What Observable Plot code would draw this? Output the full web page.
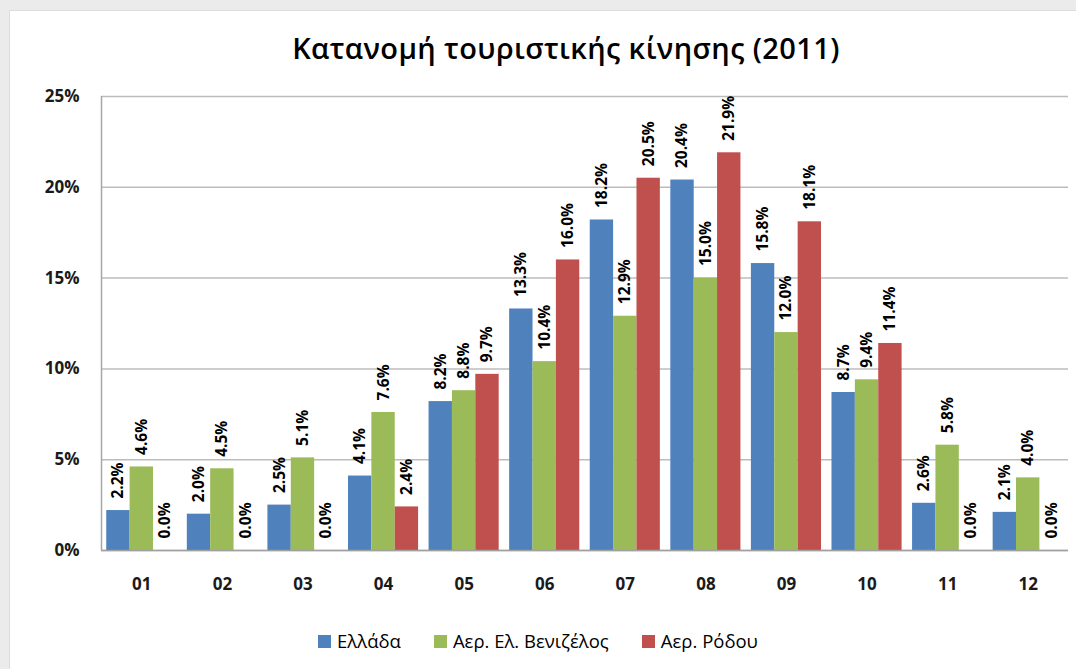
<!DOCTYPE html>
<html><head><meta charset="utf-8">
<script src="https://cdn.jsdelivr.net/npm/d3@7"></script>
<script src="https://cdn.jsdelivr.net/npm/@observablehq/plot@0.6"></script>
<style>
html,body{margin:0;padding:0}
body{width:1076px;height:669px;overflow:hidden;position:relative;background:#ebebeb;font-family:"Open Sans","Noto Sans",sans-serif}
#panel{position:absolute;left:9px;top:10px;width:1067px;height:659px;background:#fff;border-left:1px solid #ddd;border-top:1px solid #ddd}
#title{position:absolute;left:0;top:28px;width:1132px;text-align:center;font-size:29px;font-weight:600;letter-spacing:0.4px;color:#000}
#chart{position:absolute;left:0;top:0}
#legend{position:absolute;top:628px;left:0;width:1076px;display:flex;justify-content:center;gap:33px;font-size:18.5px;line-height:26px;color:#000}
#legend span.i{display:flex;align-items:center}
#legend span.sw{display:inline-block;width:13px;height:13px;margin-right:6px}
</style></head>
<body>
<div id="panel"></div>
<div id="chart"></div>
<div id="title">Κατανομή τουριστικής κίνησης (2011)</div>
<div id="legend"></div>
<script>
const months = ["01","02","03","04","05","06","07","08","09","10","11","12"];
const series = ["Ελλάδα","Αερ. Ελ. Βενιζέλος","Αερ. Ρόδου"];
const greece    = [2.2, 2.0, 2.5, 4.1, 8.2, 13.3, 18.2, 20.4, 15.8, 8.7, 2.6, 2.1];
const venizelos = [4.6, 4.5, 5.1, 7.6, 8.8, 10.4, 12.9, 15.0, 12.0, 9.4, 5.8, 4.0];
const rhodes    = [0.0, 0.0, 0.0, 2.4, 9.7, 16.0, 20.5, 21.9, 18.1, 11.4, 0.0, 0.0];
const colors = ["#4F81BD","#9BBB59","#C0504D"];
const yTicks = [0,5,10,15,20,25];

// layout: each month occupies one unit on a linear x scale; bars share a group
const barW = 0.29;
const seriesValues = [greece, venizelos, rhodes];
const rows = [];
months.forEach((m, i) => {
  series.forEach((s, j) => {
    const x1 = (i + 1) - 1.5 * barW + j * barW;
    rows.push({month: m, series: s, value: seriesValues[j][i], x1, x2: x1 + barW, xc: x1 + barW / 2});
  });
});
const monthPos = months.map((m, i) => i + 1);

const chart = Plot.plot({
  width: 1076, height: 600,
  marginLeft: 101, marginRight: 8, marginTop: 96, marginBottom: 50,
  style: {background: "transparent", fontFamily: "'Open Sans','Noto Sans',sans-serif", color: "#1a1a1a"},
  x: {domain: [0.5, 12.5], label: null, axis: null},
  y: {domain: [0, 25], label: null, axis: null},
  color: {domain: series, range: colors},
  marks: [
    Plot.gridY(yTicks, {stroke: "#bcbcbc", strokeOpacity: 1, strokeWidth: 1.5}),
    Plot.axisY(yTicks, {tickFormat: d => d + "%", tickSize: 0, tickPadding: 22, fontSize: 17, fontWeight: 700, label: null}),
    Plot.axisX(monthPos, {tickFormat: d => months[d - 1], tickSize: 0, tickPadding: 27, fontSize: 17, fontWeight: 700, label: null}),
    Plot.rectY(rows, {x1: "x1", x2: "x2", y: "value", fill: "series"}),
    Plot.text(rows, {x: "xc", y: "value", text: d => d.value.toFixed(1) + "%",
      rotate: -90, textAnchor: "start", dy: -12, fontWeight: "bold", fontSize: 15.5, fill: "#000"}),
    Plot.ruleX([0.5], {stroke: "#a6a6a6", strokeWidth: 1.5}),
    Plot.ruleY([0], {stroke: "#a0a0a0", strokeWidth: 1.5})
  ]
});
document.getElementById("chart").appendChild(chart);

const legend = document.getElementById("legend");
series.forEach((s, j) => {
  const item = document.createElement("span"); item.className = "i";
  const sw = document.createElement("span"); sw.className = "sw"; sw.style.background = colors[j];
  item.appendChild(sw); item.appendChild(document.createTextNode(s));
  legend.appendChild(item);
});
</script>
</body></html>
